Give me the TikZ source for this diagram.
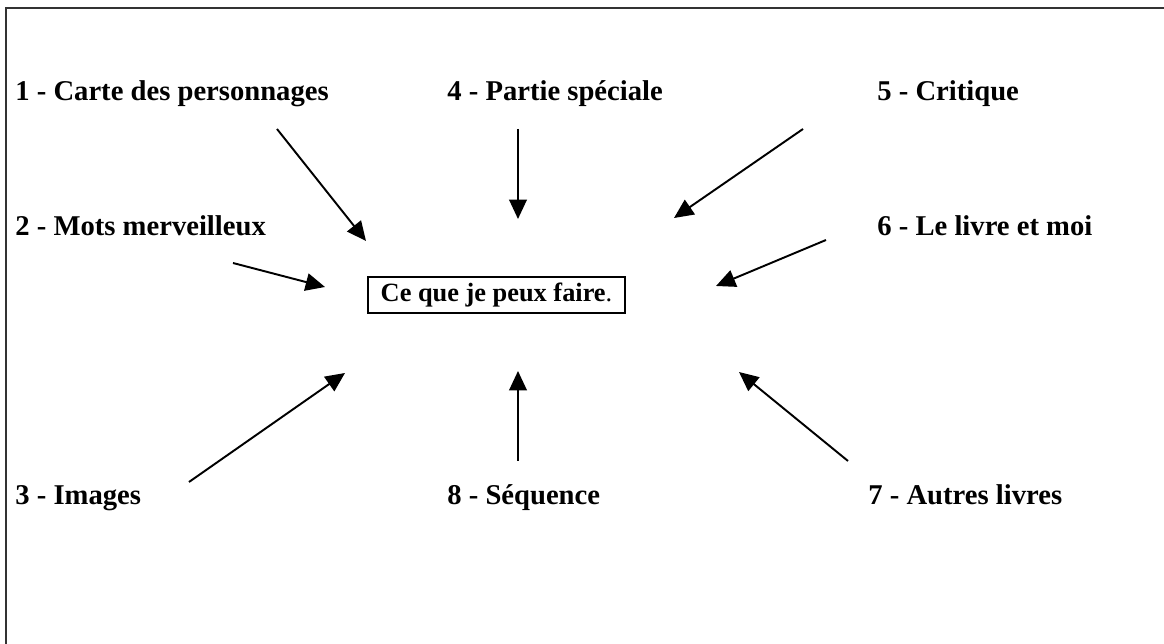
\documentclass[tikz,border=0pt]{standalone}
\usepackage{fontspec}
\setmainfont{Liberation Serif}
\usetikzlibrary{arrows.meta}
\tikzset{
  lbl/.style={anchor=base west, inner sep=0pt, font=\fontsize{16.3}{18}\selectfont\bfseries},
  fleche/.style={line width=1.1pt, -{Triangle[length=11pt,width=10pt]}},
  cadre/.style={draw, line width=0.7pt, minimum width=5.14cm, minimum height=0.72cm, inner sep=0pt, font=\fontsize{15}{17}\selectfont}
}
\begin{document}
\begin{tikzpicture}[x=0.02cm,y=-0.02cm]
\useasboundingbox (0,0) rectangle (1164,644);
% cadre coupe a droite et en bas
\draw[line width=1pt, black!80] (6,644) -- (6,8) -- (1164,8);
% centre
\node[cadre] (centre) at (496.5,295) {\textbf{Ce que je peux faire}.};
% etiquettes
\node[lbl] (l1) at (15,101) {1 - Carte des personnages};
\node[lbl] (l4) at (447,101) {4 - Partie spéciale};
\node[lbl] (l5) at (877,101) {5 - Critique};
\node[lbl] (l2) at (15,236) {2 - Mots merveilleux};
\node[lbl] (l6) at (877,236) {6 - Le livre et moi};
\node[lbl] (l3) at (15,505) {3 - Images};
\node[lbl] (l8) at (447,505) {8 - Séquence};
\node[lbl] (l7) at (868,505) {7 - Autres livres};
% bouts des fleches
\coordinate (d1) at (277,129);
\coordinate (a1) at (366,241);
\coordinate (d2) at (233,263);
\coordinate (a2) at (325,287);
\coordinate (d3) at (189,482);
\coordinate (a3) at (345,373);
\coordinate (d4) at (518,129);
\coordinate (a4) at (518,219);
\coordinate (d5) at (803,129);
\coordinate (a5) at (674,218);
\coordinate (d6) at (826,240);
\coordinate (a6) at (716,286);
\coordinate (d7) at (848,461);
\coordinate (a7) at (739,372);
\coordinate (d8) at (518,461);
\coordinate (a8) at (518,371);
\draw[fleche] (d1) -- (a1);
\draw[fleche] (d2) -- (a2);
\draw[fleche] (d3) -- (a3);
\draw[fleche] (d4) -- (a4);
\draw[fleche] (d5) -- (a5);
\draw[fleche] (d6) -- (a6);
\draw[fleche] (d7) -- (a7);
\draw[fleche] (d8) -- (a8);
\end{tikzpicture}
\end{document}
